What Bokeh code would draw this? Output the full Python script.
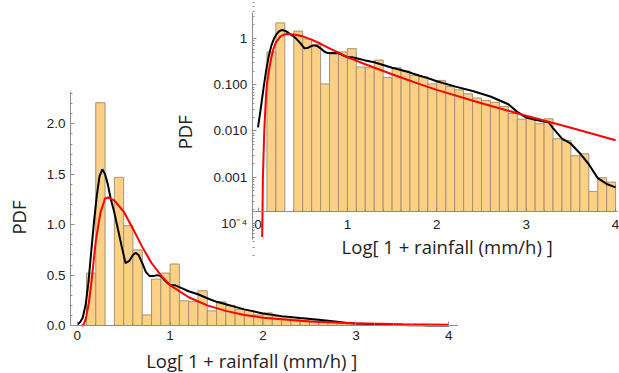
import math
from bokeh.plotting import figure
from bokeh.models import (Range1d, FixedTicker, Label, CustomJSTickFormatter,
                          LinearAxis, LogAxis, LogScale)
from bokeh.embed import file_html
from bokeh.resources import INLINE

# ---------------- data ----------------
bin_left = [0.0, 0.1, 0.2, 0.3, 0.4, 0.5, 0.6, 0.7, 0.8, 0.9,
            1.0, 1.1, 1.2, 1.3, 1.4, 1.5, 1.6, 1.7, 1.8, 1.9,
            2.0, 2.1, 2.2, 2.3, 2.4, 2.5, 2.6, 2.7, 2.8, 2.9,
            3.0, 3.1, 3.2, 3.3, 3.4, 3.5, 3.6, 3.7, 3.8, 3.9]
bin_width = 0.1
pdf_hist = [0.0, 0.52, 2.21, 0.0, 1.47, 0.99, 0.75, 0.105, 0.46, 0.52,
            0.61, 0.245, 0.235, 0.345, 0.145, 0.235, 0.20, 0.16, 0.15, 0.105,
            0.125, 0.092, 0.078, 0.064, 0.052, 0.046, 0.042, 0.034, 0.024, 0.018,
            0.019, 0.0144, 0.0184, 0.0068, 0.0062, 0.0029, 0.0032, 0.00049, 0.00097, 0.00078]

kde_x = [0.0, 0.03, 0.06, 0.09, 0.12, 0.15, 0.18, 0.21, 0.24, 0.27, 0.30, 0.33, 0.36,
         0.40, 0.44, 0.48, 0.52, 0.56, 0.60, 0.63, 0.66, 0.70, 0.74, 0.78, 0.82, 0.86,
         0.90, 0.95, 1.00, 1.05, 1.10, 1.20, 1.30, 1.40, 1.50, 1.60, 1.70, 1.80, 1.90,
         2.00, 2.20, 2.40, 2.60, 2.80, 2.90, 3.00, 3.10, 3.20, 3.25, 3.30, 3.40, 3.50,
         3.60, 3.70, 3.80, 3.90, 4.00]
kde_y = [0.012, 0.03, 0.08, 0.20, 0.42, 0.72, 1.02, 1.28, 1.48, 1.55, 1.50, 1.40, 1.26,
         1.12, 0.95, 0.78, 0.62, 0.64, 0.70, 0.72, 0.70, 0.62, 0.53, 0.49, 0.49, 0.50,
         0.49, 0.44, 0.40, 0.40, 0.38, 0.34, 0.31, 0.27, 0.235, 0.21, 0.185, 0.16, 0.14,
         0.12, 0.093, 0.074, 0.056, 0.038, 0.026, 0.0195, 0.0175, 0.016, 0.0155, 0.0115, 0.0068, 0.0053,
         0.0033, 0.0019, 0.00095, 0.00071, 0.0006]

fit_x = [0.047, 0.055, 0.07, 0.09, 0.10, 0.125, 0.15, 0.175, 0.20, 0.25, 0.30, 0.33,
         0.40, 0.50, 0.60, 0.70, 0.80, 0.90, 1.00, 1.20, 1.40, 1.60, 1.80, 2.00,
         2.50, 3.00, 3.50, 4.00]
fit_y = [0.00005, 0.001, 0.01, 0.06, 0.10, 0.22, 0.40, 0.62, 0.84, 1.12, 1.26, 1.27,
         1.24, 1.13, 0.96, 0.78, 0.62, 0.50, 0.40, 0.28, 0.20, 0.145, 0.105, 0.078,
         0.040, 0.0215, 0.0118, 0.0063]

x_ticks = [0, 1, 2, 3, 4]
x_labels = ["0", "1", "2", "3", "4"]
x_minor = [0.2, 0.4, 0.6, 0.8, 1.2, 1.4, 1.6, 1.8, 2.2, 2.4, 2.6, 2.8, 3.2, 3.4, 3.6, 3.8]
main_y_ticks = [0.0, 0.5, 1.0, 1.5, 2.0]
main_y_labels = ["0.0", "0.5", "1.0", "1.5", "2.0"]
main_y_minor = [0.1, 0.2, 0.3, 0.4, 0.6, 0.7, 0.8, 0.9, 1.1, 1.2, 1.3, 1.4,
                1.6, 1.7, 1.8, 1.9, 2.1, 2.2, 2.3]
log_y_ticks = [0.0001, 0.001, 0.01, 0.1, 1.0]
log_y_labels = ["10\u207b\u2074", "0.001", "0.010", "0.100", "1"]
log_y_minor = [k * 10.0 ** d for d in range(-5, 1) for k in range(2, 10)]

x_title = "Log[ 1 + rainfall (mm/h) ]"
y_title = "PDF"

# ---------------- layout / style ----------------
W, H = 619, 373
FILL = "#FCD085"
EDGE = "#A89373"
AXIS = "#8c8c8c"
TEXT = "#222222"
TICK_FONT = "Liberation Sans"
LABEL_FONT = "Open Sans"

# main panel extents (data units of the main linear axes)
main_x_span = (-0.072, 4.09)
main_y_span = (0.0, 2.324)
# inset panel extents (data units of the inset axes)
inset_x_span = (-0.065, 4.02)
inset_y_span = (10 ** -4.36, 10 ** 0.577)
inset_axis_level = 1.79e-4

def fmt(vals, labs):
    return CustomJSTickFormatter(args=dict(vals=vals, labs=labs), code="""
        for (let i = 0; i < vals.length; i++) {
            if (Math.abs(vals[i] - tick) <= 1e-9 * Math.abs(vals[i]) + 1e-12) return labs[i];
        }
        return '';
    """)

def style_axis(ax):
    ax.axis_line_color = AXIS
    ax.major_tick_line_color = AXIS
    ax.minor_tick_line_color = AXIS
    ax.major_tick_in = 4
    ax.major_tick_out = 0
    ax.minor_tick_in = 2
    ax.minor_tick_out = 0
    ax.major_label_text_font = TICK_FONT
    ax.major_label_text_font_size = "13.5px"
    ax.major_label_text_color = TEXT
    return ax

def title_label(x, y, text, angle=0.0, **kw):
    return Label(x=x, y=y, text=text, angle=angle,
                 text_align="center", text_baseline="middle",
                 text_font=LABEL_FONT, text_font_size="18.5px", text_color=TEXT, **kw)

p = figure(width=W, height=H, output_backend="svg", toolbar_location=None,
           x_range=Range1d(-0.8256, 5.8375), y_range=Range1d(-0.4762, 3.2242),
           x_axis_location=None, y_axis_location=None,
           min_border_left=0, min_border_right=0, min_border_top=0, min_border_bottom=0)
p.extra_x_ranges = {"ix": Range1d(-2.8803, 4.0436)}
p.extra_y_ranges = {"iy": Range1d(10 ** -7.2603, 10 ** 0.8308)}
p.extra_y_scales = {"iy": LogScale()}
p.grid.visible = False
p.outline_line_color = None
p.background_fill_color = "white"
p.border_fill_color = "white"

lefts = [b for b, v in zip(bin_left, pdf_hist) if v > 0]
rights = [b + bin_width for b, v in zip(bin_left, pdf_hist) if v > 0]
tops = [v for v in pdf_hist if v > 0]

# ---- main (linear) panel ----
p.quad(left=lefts, right=rights, bottom=0, top=tops,
       fill_color=FILL, line_color=EDGE, line_width=1)
p.line(kde_x, kde_y, line_color="black", line_width=2)
p.line(fit_x, fit_y, line_color="#FF0000", line_width=2)

mx = style_axis(LinearAxis(ticker=FixedTicker(ticks=x_ticks, minor_ticks=x_minor),
                           formatter=fmt(x_ticks, x_labels),
                           fixed_location=main_y_span[0], bounds=main_x_span))
mx.major_label_standoff = 6
my = style_axis(LinearAxis(ticker=FixedTicker(ticks=main_y_ticks, minor_ticks=main_y_minor),
                           formatter=fmt(main_y_ticks, main_y_labels),
                           fixed_location=main_x_span[0], bounds=main_y_span))
my.major_label_standoff = 5
p.add_layout(mx, "below")
p.add_layout(my, "left")
p.add_layout(title_label(-0.632, 1.071, y_title, math.pi / 2))
p.add_layout(title_label(1.879, -0.3472, x_title))

# ---- inset (log) panel ----
rng = dict(x_range_name="ix", y_range_name="iy")
p.quad(left=lefts, right=rights, bottom=inset_axis_level, top=tops,
       fill_color=FILL, line_color=EDGE, line_width=1, **rng)
p.line(kde_x, kde_y, line_color="black", line_width=2, **rng)
p.line(fit_x, fit_y, line_color="#FF0000", line_width=2, **rng)

ix = style_axis(LinearAxis(ticker=FixedTicker(ticks=x_ticks, minor_ticks=x_minor),
                           formatter=fmt(x_ticks, x_labels),
                           fixed_location=inset_axis_level, bounds=inset_x_span, **rng))
ix.major_label_standoff = 8
iy = style_axis(LogAxis(ticker=FixedTicker(ticks=log_y_ticks, minor_ticks=log_y_minor),
                        formatter=fmt(log_y_ticks, log_y_labels),
                        fixed_location=inset_x_span[0], bounds=inset_y_span, **rng))
iy.major_label_standoff = 5
p.add_layout(ix, "below")
p.add_layout(iy, "left")
p.add_layout(title_label(-0.822, 0.0094, y_title, math.pi / 2, **rng))
p.add_layout(title_label(2.116, 3.1e-5, x_title, **rng))

open("out.html", "w").write(file_html(p, INLINE))
